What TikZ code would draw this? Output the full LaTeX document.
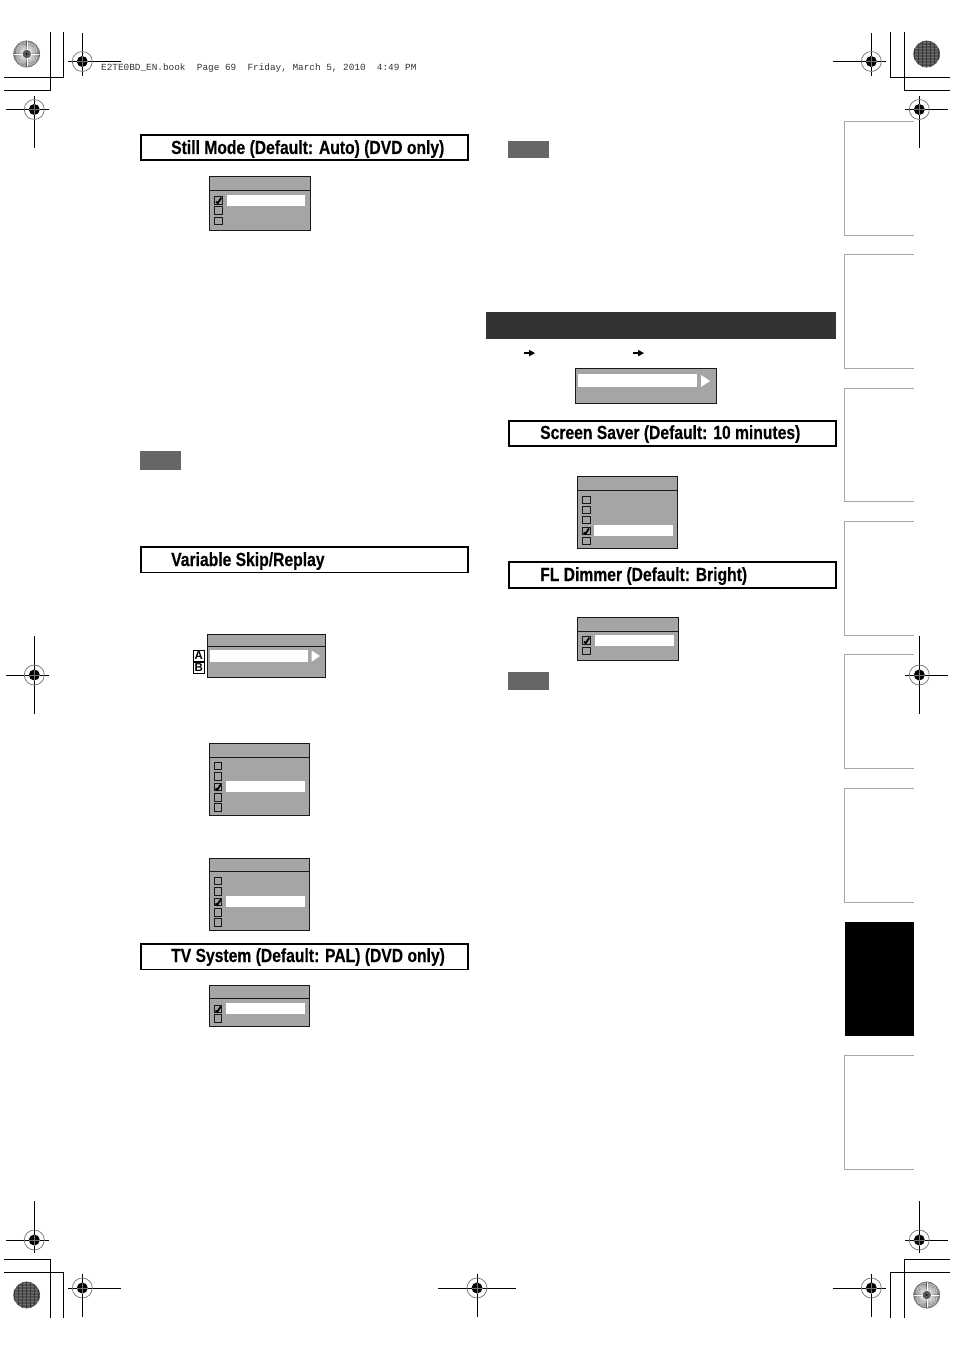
\documentclass[tikz,border=0pt]{standalone}
\usepackage{fontspec}
\setmainfont{Liberation Sans}
\newfontfamily\headfont[FakeStretch=0.825,FakeBold=0.25]{Liberation Sans Bold}
\newfontfamily\slugfont{Liberation Mono}
\definecolor{menugrey}{HTML}{A6A5A5}
\definecolor{notegrey}{HTML}{666666}
\definecolor{bardark}{HTML}{333333}
\definecolor{tabline}{HTML}{A8A8A8}
\tikzset{
  menubox/.style={draw=black!90,line width=0.9pt,fill=menugrey},
  whitebar/.style={fill=white,draw=none},
  headbox/.style={draw=black,line width=1.5pt,fill=white},
  headtext/.style={anchor=base west,inner sep=0pt,font=\headfont\fontsize{19}{20}\selectfont},
  tickbox/.style={draw=black!90,line width=0.9pt,fill=menugrey},
  crop/.style={draw=black,line width=1pt},
  tabedge/.style={draw=tabline,line width=0.9pt},
  keyletter/.style={inner sep=0pt,font=\bfseries\fontsize{11.5}{12}\selectfont}
}
\newcommand{\menupanel}[5]{% x0 y0 x1 y1 ytitle
  \draw[menubox] (#1,#2) rectangle (#3,#4);
  \draw[menubox] (#1,#5) -- (#3,#5);
}
\newcommand{\tick}[2]{\draw[tickbox] (#1-3.8,#2-3.8) rectangle (#1+3.8,#2+3.8);}
\newcommand{\ticked}[2]{\tick{#1}{#2}
  \draw[black,line width=1.8pt] (#1-2.5,#2+1.5) -- (#1-0.7,#2+2.8) -- (#1+2.8,#2-2.6);}
\newcommand{\regmark}[6]{% cx cy xl xr yt yb
  \draw[crop] (#3,#2) -- (#4,#2);
  \draw[crop] (#1,#5) -- (#1,#6);
  \draw[black!55,line width=0.7pt] (#1,#2) circle (10);
  \fill[black] (#1,#2) circle (5.5);
  \draw[black!55,line width=0.35pt] (#1-5.5,#2) -- (#1+5.5,#2) (#1,#2-5.5) -- (#1,#2+5.5);
}
\newcommand{\dial}[3]{% cx cy step
  \fill[black!68] (#1,#2) circle (13.3);
  \foreach \a in {0,#3,...,359} {
    \draw[white,line width=0.35pt] (#1,#2) ++(\a:4) -- ++(\a:9.3);
  }
  \draw[black!55,line width=0.6pt] (#1,#2) circle (13);
  \fill[black!65] (#1,#2) circle (4);
  \fill[black] (#1,#2) circle (1);
}
\newcommand{\dialdark}[2]{% cx cy
  \fill[black!68] (#1,#2) circle (13.3);
  \begin{scope}
    \clip (#1,#2) circle (13.3);
    \foreach \k in {-12,-9,...,12} {
      \draw[black!55,line width=0.7pt] (#1-14,#2+\k) -- (#1+14,#2+\k);
    }
    \foreach \k in {-12,-8,...,12} {
      \draw[black!78,line width=0.5pt] (#1+\k,#2-14) -- (#1+\k,#2+14);
    }
  \end{scope}
}
\newcommand{\tabbox}[2]{\draw[tabedge] (914,#1) -- (844.5,#1) -- (844.5,#2) -- (914,#2);}
\begin{document}
\begin{tikzpicture}[x=1pt,y=-1pt]
\useasboundingbox[fill=white] (0,0) rectangle (954,1351);

% side tabs
\tabbox{121.5}{235.5}
\tabbox{254.5}{368.5}
\tabbox{388}{501.5}
\tabbox{521}{635.5}
\tabbox{654}{768.5}
\tabbox{788}{902.5}
\fill[black] (845,922) rectangle (913.5,1036);
\tabbox{1055}{1169.5}

% corner trim lines
\draw[crop] (4,91) -- (50.3,91) -- (50.3,32);
\draw[crop] (4,77.3) -- (63.3,77.3) -- (63.3,32);
\draw[crop] (950,91) -- (904.3,91) -- (904.3,32);
\draw[crop] (950,77.3) -- (890.3,77.3) -- (890.3,32);
\draw[crop] (4,1259.3) -- (50.3,1259.3) -- (50.3,1317.7);
\draw[crop] (4,1272) -- (63.3,1272) -- (63.3,1317.7);
\draw[crop] (950,1259.3) -- (904.3,1259.3) -- (904.3,1317.7);
\draw[crop] (950,1272) -- (890.3,1272) -- (890.3,1317.7);

% dials
\dial{26.7}{54}{5}
\dialdark{926.7}{54}
\dialdark{26.7}{1295}
\dial{926.7}{1295}{5}

% register marks
\regmark{82.3}{61.5}{68}{121}{33}{76}
\regmark{34.3}{109.5}{6}{48.7}{96}{148.5}
\regmark{871.3}{61.5}{832.7}{885.7}{33}{76}
\regmark{919.3}{109.5}{905}{947.7}{96}{148.5}
\regmark{34.3}{675}{6}{48.7}{636}{714}
\regmark{919.3}{675}{905}{947.7}{636}{714}
\regmark{34.3}{1240}{6}{48.7}{1201}{1253}
\regmark{919.3}{1240}{905}{947.7}{1201}{1253}
\regmark{82.3}{1288}{68}{121}{1274}{1316.7}
\regmark{871.3}{1288}{832.7}{885.7}{1274}{1316.7}
\regmark{477}{1288}{438}{516}{1274}{1316.7}

% slug line
\node[anchor=base west,inner sep=0pt,text=black!80,font=\slugfont\fontsize{9.38}{11}\selectfont] (slug) at (101,71)
  {E2TE0BD\_EN.book\ \ Page 69\ \ Friday, March 5, 2010\ \ 4:49 PM};

% headings
\draw[headbox] (141,134.8) rectangle (468,160);
\node[headtext] (h1) at (171,154) {Still Mode (Default: Auto) (DVD only)};
\draw[headbox] (141,547) rectangle (468,572.5);
\node[headtext] (h2) at (171,566) {Variable Skip/Replay};
\draw[headbox] (141,944) rectangle (468,969.3);
\node[headtext] (h3) at (171,962) {TV System (Default: PAL) (DVD only)};
\draw[headbox] (509,421) rectangle (836,446);
\node[headtext] (h4) at (540,439) {Screen Saver (Default: 10 minutes)};
\draw[headbox] (509,562) rectangle (836,588);
\node[headtext] (h5) at (540,581) {FL Dimmer (Default: Bright)};

% note tags
\fill[notegrey] (140,451) rectangle (181,470);
\fill[notegrey] (508,141) rectangle (549,158);
\fill[notegrey] (508,672) rectangle (549,690);

% section bar and breadcrumb arrows
\fill[bardark] (486,312) rectangle (836,339);
\foreach \x in {524,633} {
  \fill[black] (\x,352) rectangle (\x+6,354.2);
  \fill[black] (\x+5,349.8) -- (\x+11,353.1) -- (\x+5,356.4) -- cycle;
}

% menu: still mode
\menupanel{209.3}{176.3}{310.3}{230.3}{190.3}
\fill[whitebar] (226.7,195) rectangle (305,205.7);
\ticked{218.5}{200.3}\tick{218.5}{210.3}\tick{218.5}{220.8}

% menu: variable skip
\menupanel{207.3}{634.3}{325.3}{677.5}{646.8}
\fill[whitebar] (210,650.3) rectangle (308,661.7);
\fill[white] (311.7,650.5) -- (319.9,656) -- (311.7,661.7) -- cycle;
\draw[black,line width=0.9pt,fill=white] (193.4,650) rectangle (204,661);
\node[keyletter] (ka) at (198.7,655.6) {A};
\draw[black,line width=0.9pt,fill=white] (193.4,662.5) rectangle (204,673);
\node[keyletter] (kb) at (198.7,667.8) {B};

% menu: skip values
\menupanel{209.3}{743.5}{309.7}{815.5}{757}
\fill[whitebar] (226,781) rectangle (305,792);
\tick{218}{766}\tick{218}{776.5}\ticked{218}{787}\tick{218}{797.5}\tick{218}{807.5}

% menu: replay values
\menupanel{209.3}{858.5}{309.7}{930.5}{871.5}
\fill[whitebar] (226,896) rectangle (305,907);
\tick{218}{881}\tick{218}{891.5}\ticked{218}{902}\tick{218}{912.5}\tick{218}{922.5}

% menu: TV system
\menupanel{209.3}{985.5}{309.7}{1026.5}{998.5}
\fill[whitebar] (226,1003) rectangle (305,1014);
\ticked{218}{1009}\tick{218}{1018.5}

% menu: others entry
\draw[menubox] (575.3,368.3) rectangle (716.3,403.3);
\fill[whitebar] (578,374) rectangle (697.3,387);
\fill[white] (701,375) -- (710,381) -- (701,387) -- cycle;

% menu: screen saver
\menupanel{577.3}{476.3}{677.7}{548.3}{490.3}
\fill[whitebar] (594,525) rectangle (673,536);
\tick{586.2}{500}\tick{586.2}{510}\tick{586.2}{520}\ticked{586.2}{531}\tick{586.2}{541}

% menu: FL dimmer
\menupanel{577.3}{617.5}{678.3}{660.5}{631}
\fill[whitebar] (595,635) rectangle (674,646);
\ticked{586.5}{640.3}\tick{586.5}{651}
\end{tikzpicture}
\end{document}
